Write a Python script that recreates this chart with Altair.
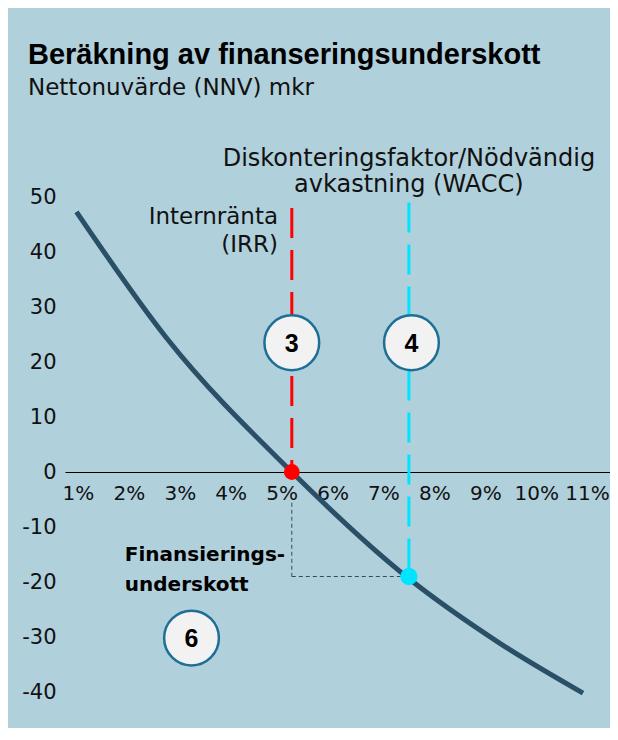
import altair as alt
import pandas as pd

# ---- data ----
rate = [0.97, 2.72, 5.2, 7.46, 9.28, 10.92]
npv = [47.3, 24.6, 0.0, -19.1, -31.1, -40.2]
x_ticks = [1, 2, 3, 4, 5, 6, 7, 8, 9, 10, 11]
y_ticks = [-40, -30, -20, -10, 0, 10, 20, 30, 40, 50]
irr = 5.2
wacc = 7.5
npv_at_wacc = -19.0
irr_line_top = 48
wacc_line_top = 49
gap_top = -5.6
badge_text = ["3", "4", "6"]
badge_x = [5.2, 7.55, 3.23]
badge_y = [23.5, 23.5, -30.2]

FONT = "DejaVu Sans"
BOLD = "Liberation Sans"
CURVE = "#2a5068"
RED = "#ff0000"
CYAN = "#00e5ff"
RING = "#1d6f96"
TXT = "#111111"

xs = alt.Scale(domain=[0.745, 11.45], nice=False, zero=False)
ys = alt.Scale(domain=[-40, 50], nice=False, zero=False)

curve_df = pd.DataFrame({"rate": rate, "npv": npv})

base_x = alt.X(
    "rate:Q", scale=xs, title=None,
    axis=alt.Axis(values=x_ticks, labelExpr="datum.value + '%'", offset=-220,
                  domainColor="#000000", domainWidth=1.2, ticks=False, grid=False,
                  labelFont=FONT, labelFontSize=20, labelColor=TXT,
                  labelPadding=11, labelFlush=False),
)
base_y = alt.Y(
    "npv:Q", scale=ys, title=None,
    axis=alt.Axis(values=y_ticks, labelExpr="'' + datum.value", domain=False,
                  ticks=False, grid=False,
                  labelFont=FONT, labelFontSize=21, labelColor=TXT,
                  labelPadding=9),
)

curve = alt.Chart(curve_df).mark_line(
    color=CURVE, strokeWidth=5, interpolate="monotone"
).encode(x=base_x, y=base_y)

rules_df = pd.DataFrame({
    "rate": [irr, wacc],
    "top": [irr_line_top, wacc_line_top],
    "bottom": [0, npv_at_wacc],
    "kind": ["irr", "wacc"],
})
red_rule = alt.Chart(rules_df[rules_df.kind == "irr"]).mark_rule(
    color=RED, strokeWidth=3, strokeDash=[30, 12]
).encode(x=alt.X("rate:Q", scale=xs), y=alt.Y("top:Q", scale=ys), y2="bottom:Q")
cyan_rule = alt.Chart(rules_df[rules_df.kind == "wacc"]).mark_rule(
    color=CYAN, strokeWidth=3, strokeDash=[30, 12]
).encode(x=alt.X("rate:Q", scale=xs), y=alt.Y("top:Q", scale=ys), y2="bottom:Q")

gap_v = alt.Chart(pd.DataFrame({"rate": [irr], "top": [gap_top], "bottom": [npv_at_wacc]})).mark_rule(
    color="#2d4d63", strokeWidth=1, strokeDash=[4, 3]
).encode(x=alt.X("rate:Q", scale=xs), y=alt.Y("top:Q", scale=ys), y2="bottom:Q")
gap_h = alt.Chart(pd.DataFrame({"a": [irr], "b": [wacc], "npv": [npv_at_wacc]})).mark_rule(
    color="#2d4d63", strokeWidth=1, strokeDash=[4, 3]
).encode(x=alt.X("a:Q", scale=xs), x2="b:Q", y=alt.Y("npv:Q", scale=ys))

red_dot = alt.Chart(pd.DataFrame({"rate": [irr], "npv": [0]})).mark_point(
    shape="circle", filled=True, size=250, opacity=1, color=RED
).encode(x=alt.X("rate:Q", scale=xs), y=alt.Y("npv:Q", scale=ys))
cyan_dot = alt.Chart(pd.DataFrame({"rate": [wacc], "npv": [npv_at_wacc]})).mark_point(
    shape="circle", filled=True, size=300, opacity=1, color=CYAN
).encode(x=alt.X("rate:Q", scale=xs), y=alt.Y("npv:Q", scale=ys))

badge_df = pd.DataFrame({"rate": badge_x, "npv": badge_y, "t": badge_text})
badges = alt.Chart(badge_df).mark_point(
    shape="circle", size=3000, filled=True, fill="#f2f2f2", stroke=RING,
    strokeWidth=2.5, opacity=1
).encode(x=alt.X("rate:Q", scale=xs), y=alt.Y("npv:Q", scale=ys))
badge_txt = alt.Chart(badge_df).mark_text(
    font=BOLD, fontWeight="bold", fontSize=25, color="#000000", baseline="middle", dy=1
).encode(x=alt.X("rate:Q", scale=xs), y=alt.Y("npv:Q", scale=ys), text="t:N")

irr_lbl = alt.Chart(pd.DataFrame({
    "rate": [4.93, 4.93], "npv": [46.4, 41.3], "t": ["Internränta", "(IRR)"]
})).mark_text(
    font=FONT, fontSize=23, color=TXT, align="right", baseline="middle"
).encode(x=alt.X("rate:Q", scale=xs), y=alt.Y("npv:Q", scale=ys), text="t:N")
wacc_lbl = alt.Chart(pd.DataFrame({
    "rate": [wacc, wacc], "npv": [57.0, 52.1],
    "t": ["Diskonteringsfaktor/Nödvändig", "avkastning (WACC)"]
})).mark_text(
    font=FONT, fontSize=24, color=TXT, align="center", baseline="middle"
).encode(x=alt.X("rate:Q", scale=xs), y=alt.Y("npv:Q", scale=ys), text="t:N")

gap_lbl = alt.Chart(pd.DataFrame({
    "rate": [1.92, 1.92], "npv": [-15.1, -20.5], "t": ["Finansierings-", "underskott"]
})).mark_text(
    font=FONT, fontWeight="bold", fontSize=20, color="#000000", align="left", baseline="middle"
).encode(x=alt.X("rate:Q", scale=xs), y=alt.Y("npv:Q", scale=ys), text="t:N")

chart = alt.layer(
    curve, red_rule, cyan_rule, gap_v, gap_h, badges, badge_txt, red_dot, cyan_dot,
    irr_lbl, wacc_lbl, gap_lbl
).properties(
    width=545, height=495,
    title=alt.Title(
        "Beräkning av finanseringsunderskott",
        subtitle="Nettonuvärde (NNV) mkr",
        anchor="start", frame="group", dx=-37, offset=47,
        font=BOLD, fontSize=29, fontWeight="bold", color="#000000",
        subtitleFont=FONT, subtitleFontSize=23, subtitleColor=TXT,
        subtitlePadding=7,
    ),
    autosize=alt.AutoSizeParams(type="none"),
    padding={"left": 57, "top": 189, "right": 0, "bottom": 36},
).configure(
    background="#b0d0dc",
).configure_view(stroke=None)

chart.save("out.html", embed_options={"renderer": "svg", "actions": False})
